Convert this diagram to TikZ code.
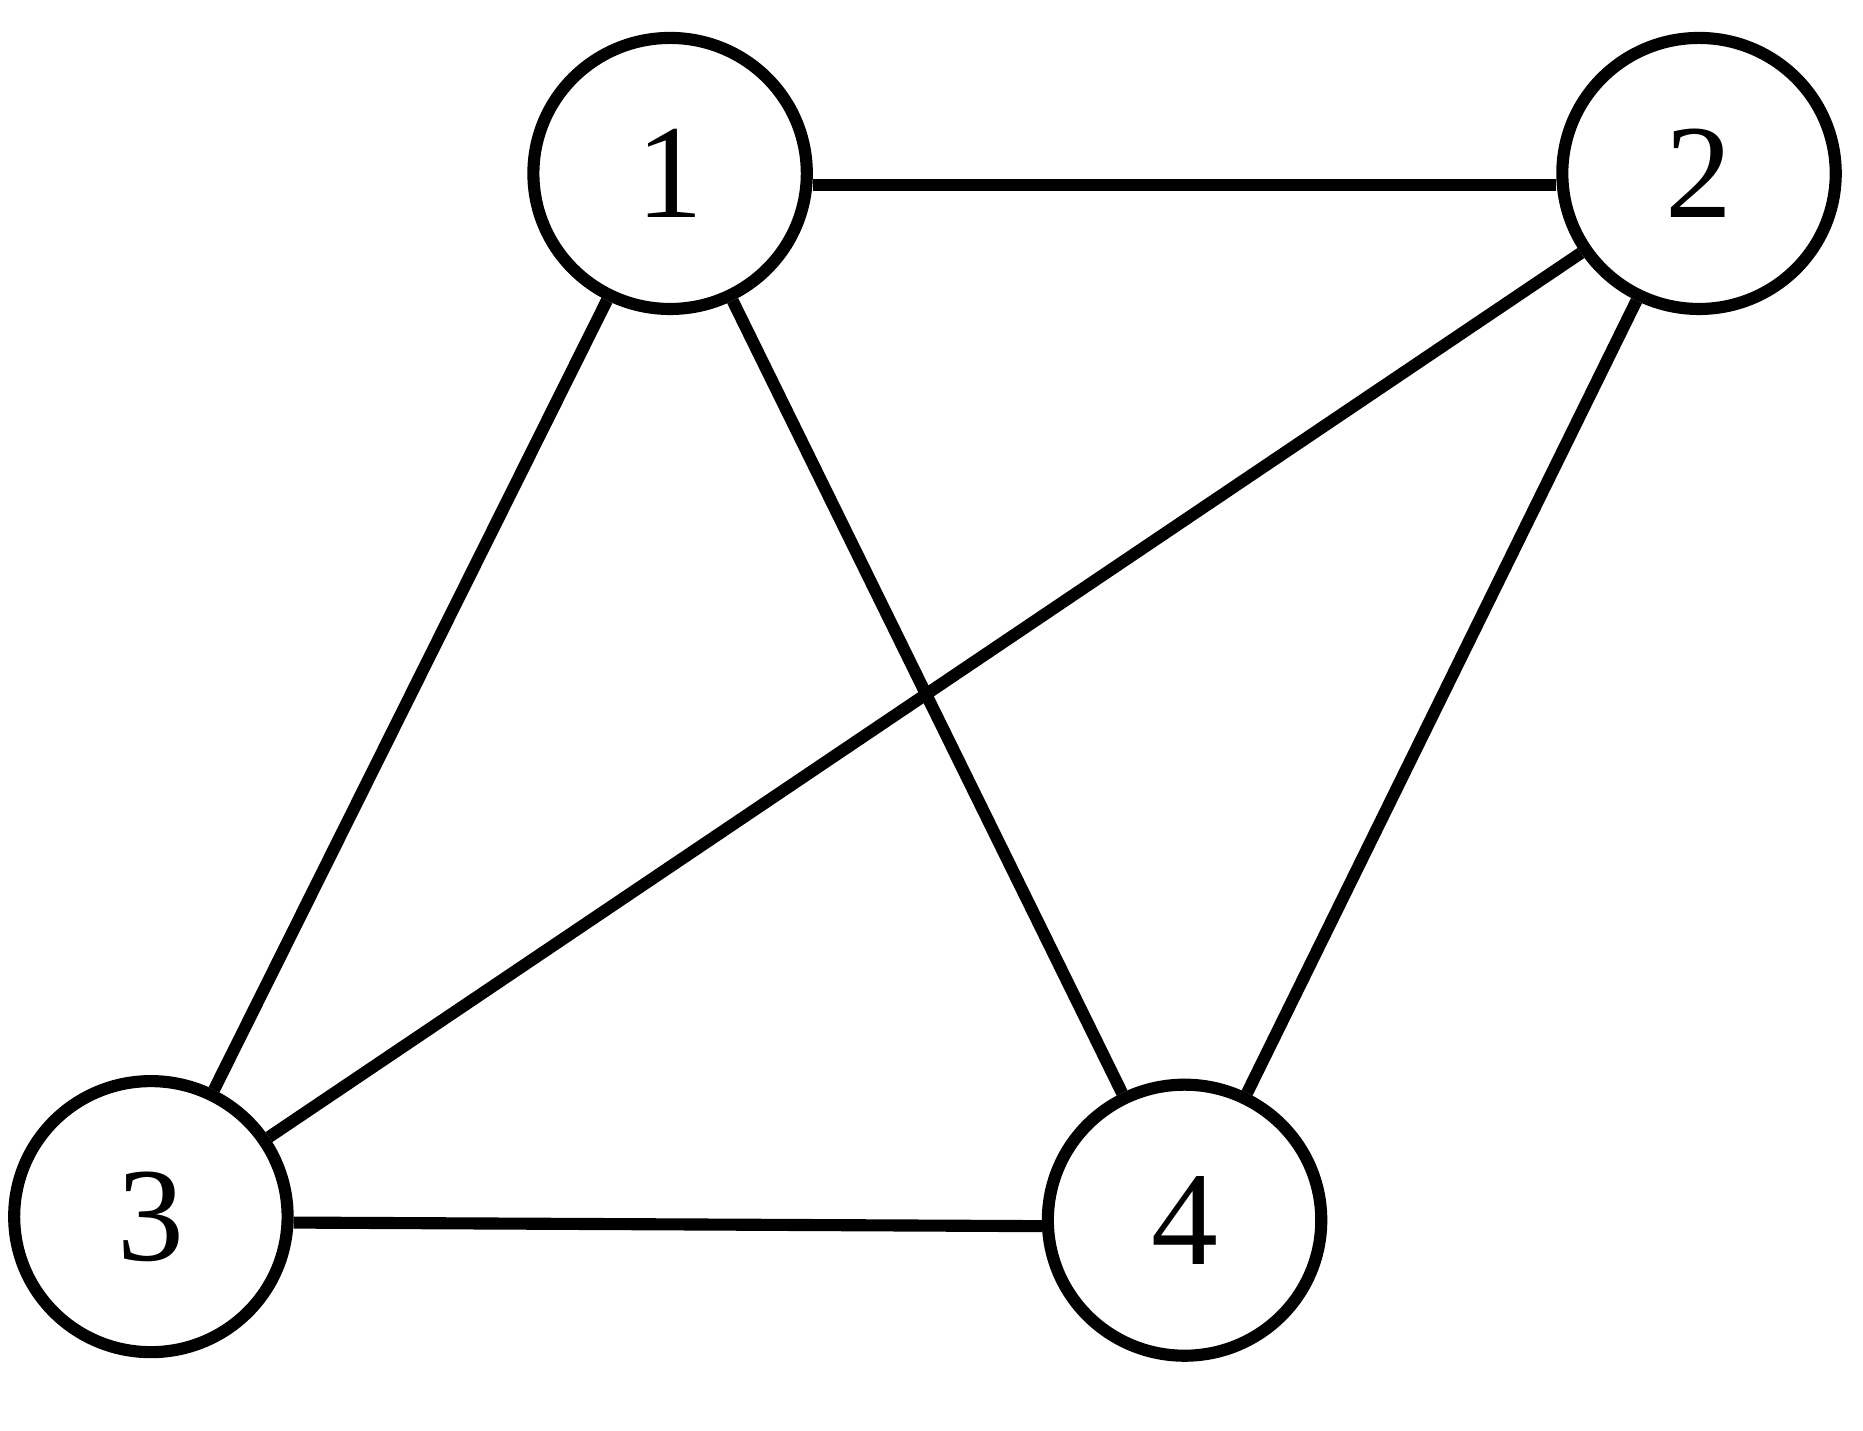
\documentclass[tikz,border=0pt]{standalone}
\usepackage{fontspec}
\setmainfont{Liberation Serif}
\usetikzlibrary{shapes.geometric}
\begin{document}
\begin{tikzpicture}[x=0.01cm,y=-0.01cm,
  vtx/.style={draw,line width=2.9pt,ellipse,minimum width=2.3cm,minimum height=2.28cm,inner sep=0pt,font=\fontsize{32}{36}\selectfont},
  edge/.style={line width=2.9pt}]
\useasboundingbox (0,0) rectangle (1568,1204);
\node[vtx] (a) at (564,146) {1};
\node[vtx] (b) at (1430,146) {2};
\node[vtx] (c) at (127,1024) {3};
\node[vtx] (d) at (997,1027) {4};
\draw[edge] ([yshift=-0.1cm]a.east) -- ([yshift=-0.1cm]b.west);
\draw[edge] ([yshift=-0.05cm]c.east) -- ([yshift=-0.05cm]d.west);
\draw[edge] (a) -- (c);
\draw[edge] (a) -- (d);
\draw[edge] (b) -- (c);
\draw[edge] (b) -- (d);
\end{tikzpicture}
\end{document}
